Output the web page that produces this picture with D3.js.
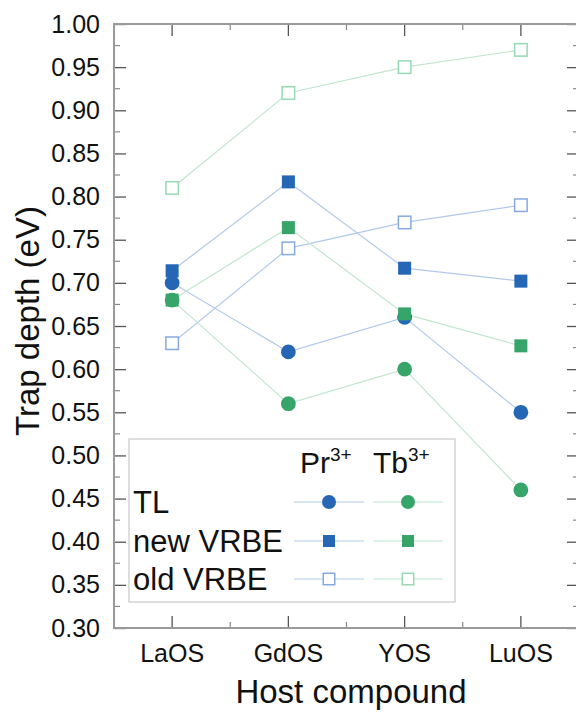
<!DOCTYPE html>
<html><head><meta charset="utf-8">
<script src="https://cdn.jsdelivr.net/npm/d3@7"></script>
<style>body{margin:0;background:#fff}svg{display:block;font-family:Arial,"Liberation Sans",sans-serif}</style>
</head><body><svg id="c" width="576" height="713"></svg>
<script>
const categories = ["LaOS","GdOS","YOS","LuOS"];
const prTL     = [0.70, 0.62, 0.66, 0.55];
const tbTL     = [0.68, 0.56, 0.60, 0.46];
const prNew    = [0.714, 0.817, 0.717, 0.702];
const tbNew    = [0.680, 0.764, 0.664, 0.627];
const prOld    = [0.63, 0.74, 0.77, 0.79];
const tbOld    = [0.81, 0.92, 0.95, 0.97];
const yTicks   = [0.30,0.35,0.40,0.45,0.50,0.55,0.60,0.65,0.70,0.75,0.80,0.85,0.90,0.95,1.00];
const legendRows = ["TL","new VRBE","old VRBE"];

const svg = d3.select("#c");
const L=114, R=579, T=24, B=628;
const x = d3.scaleBand().domain(categories).range([L,R]).padding(0);
const cx = d => x(d)+x.bandwidth()/2;
const y = d3.scaleLinear().domain([0.30,1.00]).range([B,T]);

const blue="#2567b5", green="#37a469";
const blueLine="#b3c9ec", greenLine="#c0e6cf";
const blueOpen="#86abe0", greenOpen="#98d8b3";

const axisCol="#9a9a9a", tickCol="#555";
const minorY = d3.range(0.325,1.0,0.05);
const minorX = categories.slice(1).map(c=>x(c));

function styleAxis(g){ g.select(".domain").remove(); g.selectAll(".tick line").attr("stroke",tickCol).attr("stroke-width",1.3); g.selectAll("text").attr("font-size",25).attr("fill","#111"); }
svg.append("g").attr("transform",`translate(${L},0)`).call(d3.axisLeft(y).tickValues(yTicks).tickFormat(d3.format(".2f")).tickSize(-12).tickPadding(14)).call(styleAxis);
svg.append("g").attr("transform",`translate(${R},0)`).call(d3.axisRight(y).tickValues(yTicks).tickFormat("").tickSize(-12)).call(styleAxis);
svg.append("g").attr("transform",`translate(0,${B})`).call(d3.axisBottom(x).tickSize(-12).tickPadding(16)).call(styleAxis);
svg.append("g").attr("transform",`translate(0,${T})`).call(d3.axisTop(x).tickFormat("").tickSize(-12)).call(styleAxis);
const mt = svg.append("g").attr("stroke","#888").attr("stroke-width",1.2);
minorY.forEach(v=>{ mt.append("line").attr("x1",L).attr("x2",L+6).attr("y1",y(v)).attr("y2",y(v));
                    mt.append("line").attr("x1",R).attr("x2",R-6).attr("y1",y(v)).attr("y2",y(v)); });
minorX.forEach(px=>{ mt.append("line").attr("x1",px).attr("x2",px).attr("y1",B).attr("y2",B-6);
                     mt.append("line").attr("x1",px).attr("x2",px).attr("y1",T).attr("y2",T+6); });
svg.append("rect").attr("x",L).attr("y",T).attr("width",R-L).attr("height",B-T).attr("fill","none").attr("stroke",axisCol).attr("stroke-width",2);

svg.append("text").attr("x",351).attr("y",703).attr("text-anchor","middle").attr("font-size",33).attr("fill","#111").text("Host compound");
svg.append("text").attr("transform",`translate(39,321) rotate(-90)`).attr("text-anchor","middle").attr("font-size",33).attr("fill","#111").text("Trap depth (eV)");

const series = [
  {v:prOld, line:blueLine, shape:"open", col:blueOpen},
  {v:tbOld, line:greenLine, shape:"open", col:greenOpen},
  {v:prTL, line:blueLine, shape:"circle", col:blue},
  {v:tbTL, line:greenLine, shape:"circle", col:green},
  {v:prNew, line:blueLine, shape:"square", col:blue},
  {v:tbNew, line:greenLine, shape:"square", col:green},
];
const lineGen = d3.line().x((d,i)=>cx(categories[i])).y(d=>y(d));
series.forEach(s=>{
  svg.append("path").attr("d",lineGen(s.v)).attr("fill","none").attr("stroke",s.line).attr("stroke-width",1.2);
});
function marker(g,shape,col,px,py,big){
  if(shape==="circle") g.append("circle").attr("cx",px).attr("cy",py).attr("r",big?7.4:7).attr("fill",col);
  else if(shape==="square"){const s=big?13:12; g.append("rect").attr("x",px-s/2).attr("y",py-s/2).attr("width",s).attr("height",s).attr("fill",col);}
  else {const s=big?12.5:11.5; g.append("rect").attr("x",px-s/2).attr("y",py-s/2).attr("width",s).attr("height",s).attr("fill","#fff").attr("stroke",col).attr("stroke-width",1.5);}
}
const mg = svg.append("g");
series.forEach(s=>{ s.v.forEach((d,i)=>marker(mg,s.shape,s.col,cx(categories[i]),y(d),true)); });

const lg = svg.append("g");
lg.append("rect").attr("x",129).attr("y",439).attr("width",326).attr("height",163).attr("fill","#fff").attr("stroke","#c8c8c8").attr("stroke-width",1.2);
const hdr = [{t:"Pr",x:300},{t:"Tb",x:373}];
hdr.forEach(h=>{ const t=lg.append("text").attr("x",h.x).attr("y",473).attr("font-size",30).attr("fill","#111");
  t.append("tspan").text(h.t); t.append("tspan").attr("font-size",19).attr("dy",-12).text("3+"); });
const rowY=[502,541,579], shapes=["circle","square","open"];
legendRows.forEach((r,i)=>{
  lg.append("text").attr("x",133).attr("y",rowY[i]+11).attr("font-size",31).attr("fill","#111").text(r);
  lg.append("line").attr("x1",294).attr("x2",364).attr("y1",rowY[i]).attr("y2",rowY[i]).attr("stroke",blueLine).attr("stroke-width",1.2);
  lg.append("line").attr("x1",373).attr("x2",443).attr("y1",rowY[i]).attr("y2",rowY[i]).attr("stroke",greenLine).attr("stroke-width",1.2);
  marker(lg,shapes[i],shapes[i]==="open"?blueOpen:blue,329,rowY[i],false);
  marker(lg,shapes[i],shapes[i]==="open"?greenOpen:green,408,rowY[i],false);
});
</script></body></html>
